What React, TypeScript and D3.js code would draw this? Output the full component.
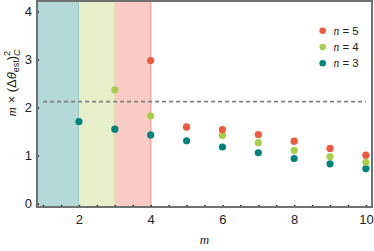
import React, { useEffect, useRef } from "react";
import * as d3 from "d3";

const mValues = [2, 3, 4, 5, 6, 7, 8, 9, 10];
const n5Values = [null, null, 2.98, 1.6, 1.54, 1.44, 1.3, 1.15, 1.01];
const n4Values = [null, 2.37, 1.83, 1.59, 1.42, 1.27, 1.11, 0.98, 0.86];
const n3Values = [1.71, 1.55, 1.43, 1.31, 1.18, 1.06, 0.94, 0.83, 0.73];
const thresholdValue = 2.125;
const regionBounds = [
  { from: 0.83, to: 2, fill: "#b3d9d8", edge: "#8ec7c6" },
  { from: 2, to: 3, fill: "#e6efca", edge: "#d3e6a6" },
  { from: 3, to: 4, fill: "#f9cbc5", edge: "#f4a79e" },
];
const seriesList = [
  { label: "5", values: n5Values, color: "#ef5a3f" },
  { label: "4", values: n4Values, color: "#a7cf49" },
  { label: "3", values: n3Values, color: "#00837b" },
];
const yTicks = [0, 1, 2, 3, 4];
const xTicks = d3.range(1, 10.01, 0.5);
const xLabels = [2, 4, 6, 8, 10];

const W = 374;
const H = 251;

const App: React.FC = () => {
  const svgRef = useRef<SVGSVGElement | null>(null);

  useEffect(() => {
    if (!svgRef.current) return;
    const svg = d3.select(svgRef.current);
    svg.selectAll("*").remove();

    const margin = { top: 1, right: 2, bottom: 44, left: 37 };
    const x = d3.scaleLinear().domain([0.83, 10.17]).range([margin.left, W - margin.right]);
    const y = d3.scaleLinear().domain([-0.07, 4.22]).range([H - margin.bottom, margin.top]);
    const font = "'Liberation Sans', Arial, sans-serif";

    // shaded regions
    regionBounds.forEach(r => {
      svg.append("rect")
        .attr("x", x(r.from))
        .attr("y", y(4.22))
        .attr("width", x(r.to) - x(r.from))
        .attr("height", y(-0.07) - y(4.22))
        .attr("fill", r.fill);
      svg.append("line")
        .attr("x1", x(r.to)).attr("x2", x(r.to))
        .attr("y1", y(4.22)).attr("y2", y(-0.07))
        .attr("stroke", r.edge)
        .attr("stroke-width", 1.5);
    });

    // dashed threshold
    svg.append("line")
      .attr("x1", x(1)).attr("x2", x(10))
      .attr("y1", y(thresholdValue)).attr("y2", y(thresholdValue))
      .attr("stroke", "#808080")
      .attr("stroke-width", 1.8)
      .attr("stroke-dasharray", "4,3");

    // axes
    const xAxis = svg.append("g")
      .attr("transform", `translate(0,${y(-0.07)})`)
      .call(d3.axisBottom(x)
        .tickValues(xTicks)
        .tickSizeInner(-2)
        .tickSizeOuter(0)
        .tickPadding(8)
        .tickFormat(d => (xLabels.includes(+d) ? String(d) : "")));
    const yAxis = svg.append("g")
      .attr("transform", `translate(${x(0.83)},0)`)
      .call(d3.axisLeft(y)
        .tickValues(yTicks)
        .tickSizeInner(-2)
        .tickSizeOuter(0)
        .tickPadding(5)
        .tickFormat(d3.format("d")));
    [xAxis, yAxis].forEach(a => {
      a.select(".domain").remove();
      a.selectAll("line").attr("stroke", "#111").attr("stroke-width", 1.5);
      a.selectAll("text")
        .attr("font-family", font)
        .attr("font-size", 13)
        .attr("fill", "#222");
    });

    // frame
    svg.append("rect")
      .attr("x", x(0.83))
      .attr("y", y(4.22))
      .attr("width", x(10.17) - x(0.83))
      .attr("height", y(-0.07) - y(4.22))
      .attr("fill", "none")
      .attr("stroke", "#707070")
      .attr("stroke-width", 2);

    // points (n=5 drawn last, on top)
    seriesList.slice().reverse().forEach(s => {
      mValues.forEach((m, i) => {
        const v = s.values[i];
        if (v === null) return;
        svg.append("circle")
          .attr("cx", x(m))
          .attr("cy", y(v))
          .attr("r", 3.6)
          .attr("fill", s.color);
      });
    });

    // legend
    seriesList.forEach((s, i) => {
      const ly = 30.7 + i * 16.3;
      svg.append("circle")
        .attr("cx", 322.7)
        .attr("cy", ly)
        .attr("r", 3.3)
        .attr("fill", s.color);
      const t = svg.append("text")
        .attr("x", 333.5)
        .attr("y", ly + 4)
        .attr("font-family", font)
        .attr("font-size", 11.5)
        .attr("fill", "#222");
      t.append("tspan").attr("font-family", "'Liberation Serif', serif").attr("font-style", "italic").text("n");
      t.append("tspan").text(` = ${s.label}`);
    });

    // axis titles
    svg.append("text")
      .attr("x", (x(0.83) + x(10.17)) / 2)
      .attr("y", 244)
      .attr("text-anchor", "middle")
      .attr("font-family", "'Liberation Serif', serif")
      .attr("font-style", "italic")
      .attr("font-size", 13)
      .attr("fill", "#222")
      .text("m");

    const yt = svg.append("text")
      .attr("transform", "translate(16,83) rotate(-90)")
      .attr("text-anchor", "middle")
      .attr("font-family", font)
      .attr("font-size", 13)
      .attr("fill", "#222");
    yt.append("tspan").attr("font-family", "'Liberation Serif', serif").attr("font-style", "italic").text("m");
    yt.append("tspan").text(" × (Δ");
    yt.append("tspan").attr("font-style", "italic").text("θ");
    yt.append("tspan").attr("font-size", 9).attr("dy", 3).text("est");
    yt.append("tspan").attr("dy", -3).text(")");
    yt.append("tspan").attr("font-size", 9).attr("dy", -6).text("2");
    yt.append("tspan").attr("font-size", 9).attr("font-style", "italic").attr("dx", -5).attr("dy", 10).text("C");
  }, []);

  return (
    <svg
      ref={svgRef}
      width={W}
      height={H}
      style={{ position: "absolute", left: 0, top: 0, background: "#fff" }}
    />
  );
};

export default App;
